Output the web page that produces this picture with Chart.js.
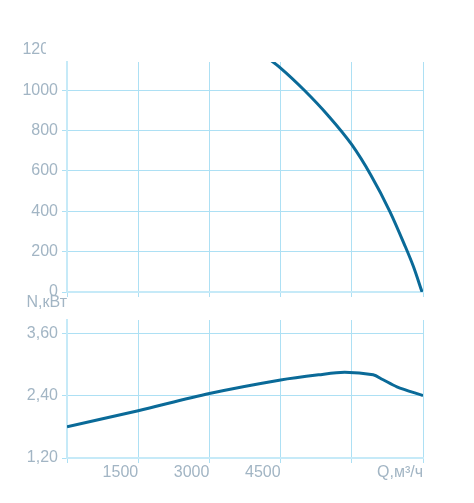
<!DOCTYPE html>
<html>
<head>
<meta charset="utf-8">
<script src="https://cdn.jsdelivr.net/npm/chart.js@4.4.1/dist/chart.umd.min.js"></script>
<style>
  html, body { margin: 0; padding: 0; background: #fff; }
  #wrap { position: relative; width: 474px; height: 503px; }
  #wrap canvas { position: absolute; left: 0; }
  #topChart { top: 0; }
  #bottomChart { top: 290px; }
</style>
</head>
<body>
<div id="wrap">
  <canvas id="topChart" width="474" height="310"></canvas>
  <canvas id="bottomChart" width="474" height="213"></canvas>
</div>
<script>
// flow rate Q, m3/h
const xTicks = [0, 1500, 3000, 4500, 6000, 7500];
const xTickLabels = ['', '1500', '3000', '4500', '', 'Q,м³/ч'];

// upper curve
const topQ = [4200, 4500, 5000, 5500, 6000, 6400, 6800, 7100, 7300, 7480];
const topN = [1165, 1110, 1000, 875, 730, 580, 400, 240, 125, 0];
const topTicks = [0, 200, 400, 600, 800, 1000];

// power curve
const powerQ = [0, 1500, 3000, 4500, 5300, 5850, 6450, 6650, 6950, 7500];
const powerN = [1.80, 2.11, 2.44, 2.70, 2.80, 2.85, 2.80, 2.71, 2.57, 2.40];
const powerTicks = [1.2, 2.4, 3.6];

const textColor = '#a2b5c4';
const gridColor = '#ade0f4';
const borderColor = '#c6eaf8';
const lineColor = '#0a6a98';
const font = { family: '"Liberation Sans", Arial, sans-serif', size: 16 };

Chart.defaults.font.family = font.family;
Chart.defaults.color = textColor;

function xScale(showLabels, height) {
  return {
    type: 'linear',
    min: 0,
    max: 7500,
    afterBuildTicks: s => { s.ticks = xTicks.map(v => ({ value: v })); },
    afterFit: s => { s.height = height; },
    grid: { color: gridColor, tickLength: 5 },
    border: { color: borderColor, width: 2 },
    ticks: {
      display: showLabels,
      font: font,
      color: textColor,
      align: 'end',
      padding: 0,
      maxRotation: 0,
      autoSkip: false,
      callback: (v, i) => xTickLabels[i]
    }
  };
}

function yScale(min, max, ticks, fmt) {
  return {
    type: 'linear',
    min: min,
    max: max,
    afterBuildTicks: s => { s.ticks = ticks.map(v => ({ value: v })); },
    afterFit: s => { s.width = 67; },
    grid: { color: gridColor, tickLength: 5 },
    border: { color: borderColor, width: 2 },
    ticks: { font: font, color: textColor, padding: 4, callback: fmt }
  };
}

// clipped "1200" label above the top plot, as in the original
const topLabel = {
  id: 'topLabel',
  afterDraw(chart) {
    const ctx = chart.ctx;
    const y = chart.scales.y.getPixelForValue(1200);
    ctx.save();
    ctx.beginPath();
    ctx.rect(0, 0, 46, chart.chartArea.top);
    ctx.clip();
    ctx.font = font.size + 'px ' + font.family;
    ctx.fillStyle = textColor;
    ctx.textAlign = 'right';
    ctx.textBaseline = 'middle';
    ctx.fillText('1200', 58, y);
    ctx.restore();
  }
};

const unitLabel = {
  id: 'unitLabel',
  afterDraw(chart) {
    const ctx = chart.ctx;
    ctx.save();
    ctx.font = font.size + 'px ' + font.family;
    ctx.fillStyle = textColor;
    ctx.textAlign = 'right';
    ctx.textBaseline = 'middle';
    ctx.fillText('N,кВт', chart.chartArea.left, chart.chartArea.top - 17);
    ctx.restore();
  }
};

function lineData(xs, ys) {
  return xs.map((x, i) => ({ x: x, y: ys[i] }));
}

new Chart(document.getElementById('topChart'), {
  type: 'line',
  data: {
    datasets: [{
      data: lineData(topQ, topN),
      borderColor: lineColor,
      borderWidth: 3,
      pointRadius: 0,
      cubicInterpolationMode: 'monotone',
      clip: 0
    }]
  },
  options: {
    responsive: false,
    animation: false,
    layout: { padding: { top: 62, right: 51, bottom: 12, left: 0 } },
    plugins: { legend: { display: false }, tooltip: { enabled: false } },
    scales: {
      x: xScale(false, 6),
      y: yScale(0, 1140, topTicks, v => String(v))
    }
  },
  plugins: [topLabel]
});

new Chart(document.getElementById('bottomChart'), {
  type: 'line',
  data: {
    datasets: [{
      data: lineData(powerQ, powerN),
      borderColor: lineColor,
      borderWidth: 3,
      pointRadius: 0,
      tension: 0.3,
      clip: 0
    }]
  },
  options: {
    responsive: false,
    animation: false,
    layout: { padding: { top: 30, right: 51, bottom: 15, left: 0 } },
    plugins: { legend: { display: false }, tooltip: { enabled: false } },
    scales: {
      x: xScale(true, 30),
      y: yScale(1.2, 3.855, powerTicks, v => v.toFixed(2).replace('.', ','))
    }
  },
  plugins: [unitLabel]
});
</script>
</body>
</html>
